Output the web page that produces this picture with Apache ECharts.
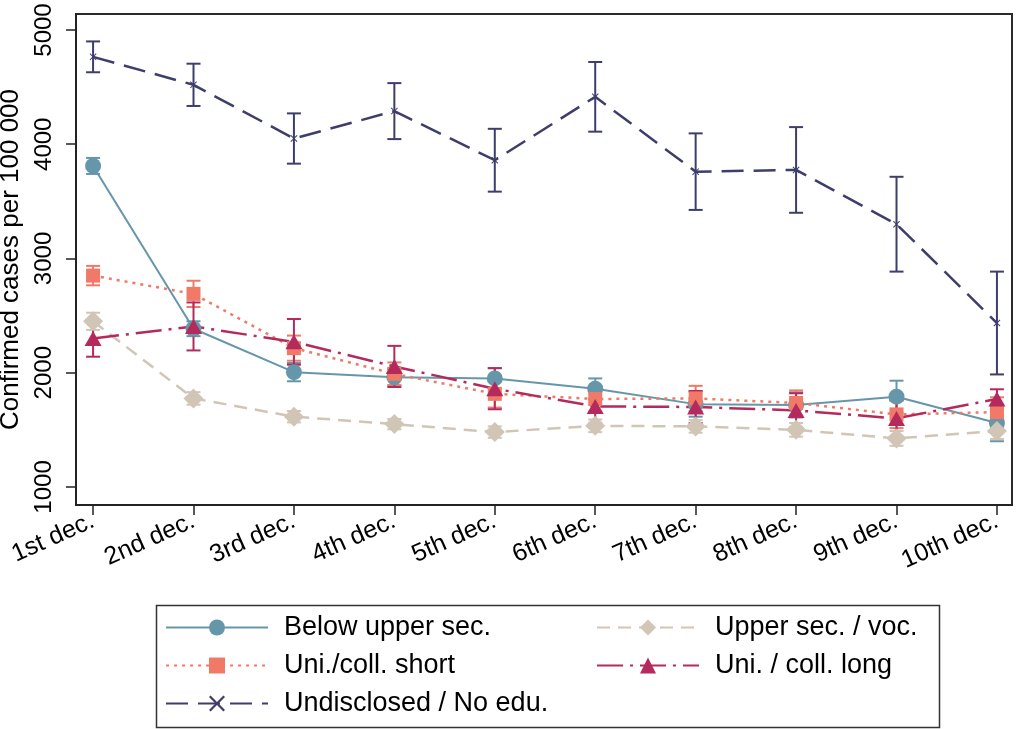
<!DOCTYPE html>
<html>
<head>
<meta charset="utf-8">
<script src="https://cdn.jsdelivr.net/npm/echarts@6/dist/echarts.min.js"></script>
<style>
  html, body { margin: 0; padding: 0; background: #fff; }
  #chart { width: 1017px; height: 729px; }
</style>
</head>
<body>
<div id="chart"></div>
<script>
// Deciles of income, confirmed cases per 100 000 by education group
const categories = ['1st dec.', '2nd dec.', '3rd dec.', '4th dec.', '5th dec.',
                    '6th dec.', '7th dec.', '8th dec.', '9th dec.', '10th dec.'];
const yTicks = [1000, 2000, 3000, 4000, 5000];

const belowUpper    = [3810, 2385, 2005, 1960, 1950, 1860, 1725, 1718, 1790, 1560];
const belowUpperErr = [70, 65, 80, 70, 90, 90, 110, 110, 140, 160];

const upperSec      = [2450, 1775, 1615, 1550, 1480, 1535, 1530, 1500, 1425, 1490];
const upperSecErr   = [75, 55, 50, 45, 50, 55, 55, 60, 65, 70];

const uniShort      = [2850, 2690, 2215, 1990, 1815, 1770, 1775, 1735, 1635, 1655];
const uniShortErr   = [85, 115, 110, 100, 120, 110, 110, 110, 120, 130];

const uniLong       = [2300, 2405, 2270, 2055, 1860, 1705, 1700, 1670, 1600, 1770];
const uniLongErr    = [160, 210, 200, 180, 180, 150, 140, 150, 160, 85];

const undisclosed    = [4765, 4520, 4050, 4290, 3860, 4415, 3760, 3775, 3300, 2435];
const undisclosedErr = [135, 185, 220, 245, 275, 305, 335, 375, 415, 450];

const FONT = "'Liberation Sans', Arial, Helvetica, sans-serif";
const xTicks = categories.map((c, i) => i + 1);

const groups = [
  { name: 'Below upper sec.',      values: belowUpper,  err: belowUpperErr,  color: '#6596a9',
    symbol: 'circle',  size: 16,       dash: 'solid',        width: 2 },
  { name: 'Upper sec. / voc.',     values: upperSec,    err: upperSecErr,    color: '#d1c5b6',
    symbol: 'diamond', size: [20, 20], dash: [13, 8],        width: 2.5 },
  { name: 'Uni./coll. short',      values: uniShort,    err: uniShortErr,    color: '#f07a67',
    symbol: 'rect',    size: 14,       dash: [3, 5],         width: 2.5 },
  { name: 'Uni. / coll. long',     values: uniLong,     err: uniLongErr,     color: '#b52a5c',
    symbol: 'triangle', size: [17, 15], dash: [26, 7, 3, 7], width: 2.5 },
  { name: 'Undisclosed / No edu.', values: undisclosed, err: undisclosedErr, color: '#3d3e6b',
    symbol: 'path://M0,1L1,0L5,4L9,0L10,1L6,5L10,9L9,10L5,6L1,10L0,9L4,5Z', size: 7,
    dash: [22, 10], width: 2.5 }
];

function errorBarSeries(g) {
  return {
    type: 'custom',
    name: g.name + ' CI',
    z: 2,
    silent: true,
    encode: { x: 0, y: [1, 2] },
    data: g.values.map((v, i) => [i + 1, v - g.err[i], v + g.err[i]]),
    renderItem: function (params, api) {
      const x = api.value(0);
      const lo = api.coord([x, api.value(1)]);
      const hi = api.coord([x, api.value(2)]);
      const hw = 7;
      const style = { stroke: g.color, lineWidth: 2 };
      return {
        type: 'group',
        children: [
          { type: 'line', shape: { x1: lo[0], y1: lo[1], x2: hi[0], y2: hi[1] }, style: style },
          { type: 'line', shape: { x1: lo[0] - hw, y1: lo[1], x2: lo[0] + hw, y2: lo[1] }, style: style },
          { type: 'line', shape: { x1: hi[0] - hw, y1: hi[1], x2: hi[0] + hw, y2: hi[1] }, style: style }
        ]
      };
    }
  };
}

function lineSeries(g) {
  return {
    type: 'line',
    name: g.name,
    z: 3,
    data: g.values.map((v, i) => [i + 1, v]),
    symbol: g.symbol,
    symbolSize: g.size,
    showAllSymbol: true,
    itemStyle: { color: g.color, opacity: 1 },
    lineStyle: { color: g.color, width: g.width, type: g.dash },
    emphasis: { disabled: true }
  };
}

const series = [];
groups.forEach(g => series.push(errorBarSeries(g)));
groups.forEach(g => series.push(lineSeries(g)));

const legendCommon = {
  orient: 'vertical',
  top: 614,
  padding: 0,
  itemWidth: 102,
  itemHeight: 20,
  itemGap: 11,
  selectedMode: false,
  textStyle: { fontFamily: FONT, fontSize: 27, color: '#000', lineHeight: 27, padding: [0, 0, 0, 11] }
};

const option = {
  animation: false,
  backgroundColor: '#fff',
  grid: {
    left: 76, right: 5, top: 14, bottom: 224,
    containLabel: false,
    outerBoundsMode: 'none',
    show: true, borderColor: '#2b2b2b', borderWidth: 2
  },
  xAxis: {
    type: 'value',
    min: 0.83,
    max: 10.15,
    axisLine: { onZero: false, lineStyle: { color: '#222', width: 2 } },
    axisTick: { show: true, length: 10, customValues: xTicks, lineStyle: { color: '#222', width: 1.5 } },
    axisLabel: {
      customValues: xTicks,
      formatter: v => categories[Math.round(v) - 1],
      rotate: 24,
      margin: 15,
      fontFamily: FONT, fontSize: 25, color: '#000'
    },
    splitLine: { show: false }
  },
  yAxis: {
    type: 'value',
    min: 842,
    max: 5140,
    name: 'Confirmed cases per 100 000',
    nameLocation: 'middle',
    nameGap: 42,
    nameTextStyle: { fontFamily: FONT, fontSize: 26, color: '#000' },
    axisLine: { show: true, lineStyle: { color: '#222', width: 2 } },
    axisTick: { show: true, length: 10, customValues: yTicks, lineStyle: { color: '#222', width: 1.5 } },
    axisLabel: {
      customValues: yTicks,
      formatter: v => String(v),
      rotate: 90,
      margin: 20,
      fontFamily: FONT, fontSize: 24, color: '#000'
    },
    splitLine: { show: false }
  },
  legend: [
    Object.assign({}, legendCommon, {
      left: 165,
      data: ['Below upper sec.', 'Uni./coll. short', 'Undisclosed / No edu.']
    }),
    Object.assign({}, legendCommon, {
      left: 596,
      data: ['Upper sec. / voc.', 'Uni. / coll. long']
    })
  ],
  graphic: [{
    type: 'rect',
    left: 154, top: 603,
    shape: { width: 783, height: 122 },
    style: { fill: 'none', stroke: '#333', lineWidth: 1.5 },
    silent: true
  }],
  series: series
};

const chart = echarts.init(document.getElementById('chart'), null, { renderer: 'canvas' });
chart.setOption(option);
</script>
</body>
</html>
